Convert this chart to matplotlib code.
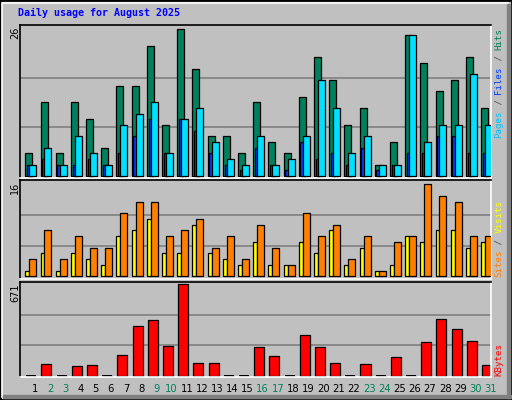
import matplotlib
matplotlib.use("Agg")
import matplotlib.pyplot as plt
from matplotlib.patches import Rectangle
import numpy as np

days = np.arange(1, 32)
weekend = [2, 3, 9, 10, 16, 17, 23, 24, 30, 31]

hits = [4, 13, 4, 13, 10, 5, 16, 16, 23, 9, 26, 19, 7, 7, 4, 13, 6, 4, 14, 21, 17, 9, 12, 2, 6, 25, 20, 15, 17, 21, 12]
files = [2, 5, 2, 7, 4, 2, 9, 11, 13, 4, 10, 12, 6, 3, 2, 7, 2, 3, 7, 17, 12, 4, 7, 2, 2, 25, 6, 9, 9, 18, 9]
pages = [2, 3, 2, 2, 3, 2, 4, 7, 10, 4, 10, 8, 4, 2, 1, 5, 2, 1, 6, 3, 4, 2, 5, 1, 2, 4, 4, 7, 7, 4, 4]
visits = [3, 8, 3, 7, 5, 5, 11, 13, 13, 7, 8, 10, 5, 7, 3, 9, 5, 2, 11, 7, 9, 3, 7, 1, 6, 7, 16, 14, 13, 7, 7]
sites = [1, 4, 1, 4, 3, 2, 7, 8, 10, 4, 4, 9, 4, 3, 2, 6, 2, 2, 6, 4, 8, 2, 5, 1, 2, 7, 6, 8, 8, 5, 6]
kbytes = [0, 83, 0, 68, 76, 0, 149, 361, 405, 215, 671, 90, 90, 0, 0, 207, 142, 0, 295, 207, 90, 0, 83, 0, 134, 0, 244, 412, 339, 252, 76]

BG = "#c0c0c0"
W, H = 512, 400
fig = plt.figure(figsize=(W / 100, H / 100), dpi=100, facecolor=BG)


def px(x, y):
    return x / W, 1 - y / H


# outer bevel
fig.patches.append(Rectangle((0, 0), 1, 1, transform=fig.transFigure, fill=False, ec="black", lw=2))
fig.patches.append(Rectangle(px(2, 397), (W - 6) / W, (H - 6) / H, transform=fig.transFigure, fill=False, ec="white", lw=1.2))
fig.patches.append(Rectangle(px(3, 398), (W - 4) / W, 3 / H, transform=fig.transFigure, color="#808080"))
fig.patches.append(Rectangle(px(W - 5, 398), 3 / W, (H - 6) / H, transform=fig.transFigure, color="#808080"))

mono = "DejaVu Sans Mono"
fig.text(18 / W, 1 - 13 / H, "Daily usage for August 2025", family=mono, weight="bold",
         color="#0000ff", fontsize=7.2, va="center")


def make_ax(top, bottom, ylim, ymax):
    l, b = px(20, bottom)
    ax = fig.add_axes([l, b, 471 / W, (bottom - top) / H])
    ax.set_facecolor(BG)
    ax.set_xlim(0.5, 31.5)
    ax.set_ylim(*ylim)
    for v in (ymax / 3, ymax * 2 / 3):
        ax.axhline(v, color="#808080", lw=1.2, zorder=0)
    ax.set_xticks([])
    ax.set_yticks([])
    for s in ax.spines.values():
        s.set_color("black")
        s.set_linewidth(1.2)
    ax.spines["right"].set_color("white")
    ax.spines["bottom"].set_color("white")
    fig.text(15 / W, 1 - (top + 2) / H, f"{ymax}", rotation=90, ha="center", va="top",
             fontsize=7, family="DejaVu Sans")
    return ax


def side_label(parts, y_bottom, x=499):
    y = y_bottom
    for txt, col in parts:
        fig.text(x / W, 1 - y / H, txt, rotation=90, family=mono, fontsize=6.6, color=col,
                 ha="center", va="bottom")
        y -= len(txt) * 5.5


ax1 = make_ax(25, 178, (-0.35, 26.7), 26)
left = days - 0.5
ax1.bar(left + 0.35, hits, width=0.46, align="edge", color="#00805c", ec="black", lw=0.9, zorder=2)
ax1.bar(left + 0.46, pages, width=0.3, align="edge", color="#0040ff", ec="black", lw=0.9, zorder=3)
ax1.bar(left + 0.61, files, width=0.46, align="edge", color="#00e0ff", ec="black", lw=0.9, zorder=4)
side_label([("Pages", "#00c0ff"), (" / ", "#505050"), ("Files", "#0040ff"), (" / ", "#505050"),
            ("Hits", "#00805c")], 138)

ax2 = make_ax(180, 279, (-0.47, 16.75), 16)
ax2.bar(left + 0.35, sites, width=0.26, align="edge", color="#ffff00", ec="black", lw=0.9, zorder=2)
ax2.bar(left + 0.61, visits, width=0.46, align="edge", color="#ff8000", ec="black", lw=0.9, zorder=3)
side_label([("Sites", "#ff8000"), (" / ", "#505050"), ("Visits", "#ffff00")], 277)

ax3 = make_ax(282, 377, (-9.5, 685.6), 671)
ax3.bar(left + 0.41, kbytes, width=0.66, align="edge", color="#ff0000", ec="black", lw=0.9, zorder=2)
# zero days still show a flat black line
ax3.bar(left + 0.41, [4 if k == 0 else 0 for k in kbytes], width=0.66, align="edge",
        color="black", lw=0, zorder=3)
side_label([("KBytes", "#ff0000")], 376)

slot = 471 / 31
for d in days:
    fig.text((20 + (d - 0.5) * slot + 0.74 * slot - 4.5 + 0.5) / W, 1 - 389 / H, str(d),
             ha="center", va="center", fontsize=7.2,
             color="#00805c" if d in weekend else "black")

fig.savefig("out.png", dpi=100, facecolor=BG)
